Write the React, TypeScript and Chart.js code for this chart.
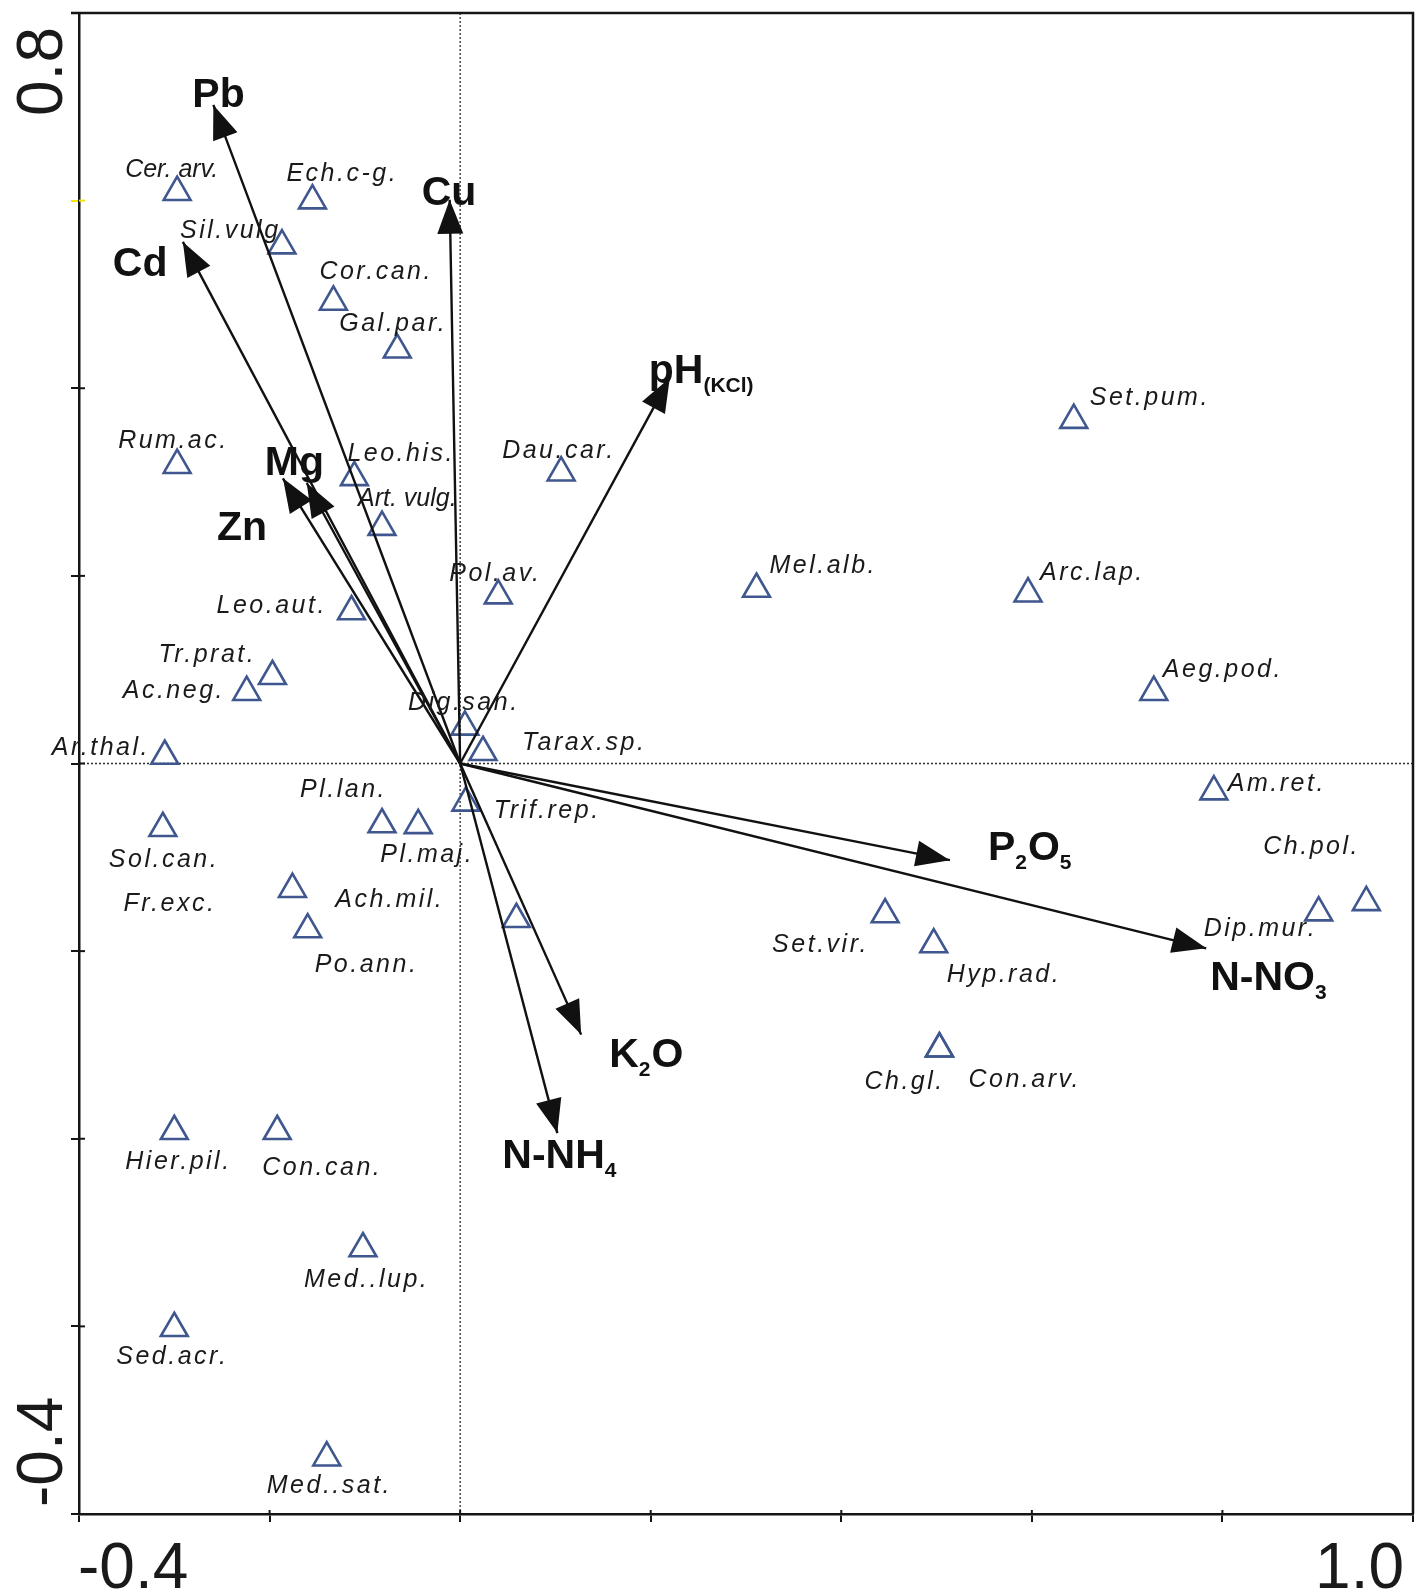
import React, { useEffect, useRef } from "react";
import { Chart, registerables } from "chart.js";

Chart.register(...registerables);

// ---- axis ticks ----
const xTickValues = [-0.4, -0.2, 0, 0.2, 0.4, 0.6, 0.8, 1.0];
const xTickLabels = ["-0.4", "", "", "", "", "", "", "1.0"];
const yTickValues = [-0.8, -0.6, -0.4, -0.2, 0, 0.2, 0.4, 0.6, 0.8];
const yTickLabels = ["-0.4", "", "", "", "", "", "", "", "0.8"];

// ---- species scores ----
const speciesNames = [
  "Cer. arv.", "Ech.c-g.", "Sil.vulg", "Cor.can.", "Gal.par.", "Rum.ac.", "Leo.his.", "Art. vulg.",
  "Leo.aut.", "Tr.prat.", "Ac.neg.", "Ar.thal.", "Dig.san.", "Tarax.sp.", "Dau.car.", "Pol.av.",
  "Mel.alb.", "Set.pum.", "Arc.lap.", "Aeg.pod.", "Am.ret.", "Pl.lan.", "Pl.maj.", "Trif.rep.",
  "Sol.can.", "Fr.exc.", "Ach.mil.", "Po.ann.", "Set.vir.", "Hyp.rad.", "Dip.mur.", "Ch.pol.",
  "Ch.gl.", "Con.arv.", "Hier.pil.", "Con.can.", "Med..lup.", "Sed.acr.", "Med..sat.",
];
const speciesX = [
  -0.297, -0.155, -0.187, -0.133, -0.066, -0.297, -0.111, -0.082,
  -0.114, -0.197, -0.224, -0.310, 0.005, 0.024, 0.106, 0.040,
  0.311, 0.644, 0.596, 0.728, 0.791, -0.082, -0.044, 0.006,
  -0.312, -0.176, 0.059, -0.160, 0.446, 0.497, 0.901, 0.951,
  0.503, 0.503, -0.300, -0.192, -0.102, -0.300, -0.140,
];
const speciesY = [
  0.609, 0.600, 0.552, 0.492, 0.441, 0.318, 0.305, 0.252,
  0.162, 0.093, 0.076, 0.008, 0.039, 0.012, 0.310, 0.179,
  0.186, 0.366, 0.181, 0.076, -0.030, -0.065, -0.066, -0.042,
  -0.069, -0.134, -0.166, -0.177, -0.161, -0.193, -0.159, -0.148,
  -0.304, -0.304, -0.392, -0.392, -0.517, -0.602, -0.740,
];

// ---- environmental variable arrows ("_" marks a subscript) ----
const envNames = ["Pb", "Cd", "Cu", "pH_{(KCl)}", "Mg", "Zn", "P_2O_5", "N-NO_3", "K_2O", "N-NH_4"];
const envX = [-0.259, -0.291, -0.011, 0.220, -0.161, -0.186, 0.514, 0.783, 0.127, 0.102];
const envY = [0.702, 0.556, 0.601, 0.411, 0.299, 0.304, -0.103, -0.197, -0.289, -0.394];

// ---- label placement (pixel offsets from the mark: left x, baseline y) ----
const speciesLabelOffsets: [number, number][] = [
  [-52, -15], [-26, -20], [-102, -8], [-14, -23], [-58, -19], [-59, -17], [-7, -16], [-24, -21],
  [-135, 1], [-114, -14], [-124, 6], [-113, -1], [-57, -17], [39, -2], [-59, -15], [-49, -15],
  [13, -16], [16, -15], [12, -14], [9, -15], [14, -1], [-82, -27], [-38, 37], [28, 15],
  [-54, 39], [-169, 22], [-181, -12], [7, 42], [-113, 37], [13, 37], [-115, 23], [-103, -48],
  [-75, 40], [29, 38], [-49, 38], [-15, 44], [-59, 38], [-58, 36], [-60, 35],
];
const envLabelOffsets: [number, number][] = [
  [-21, 2], [-70, 34], [-28, 5], [-21, 5], [-42, -8], [-66, 62], [38, 0], [4, 42], [28, 32], [-55, 35],
];

const FONT = '"Liberation Sans", Arial, sans-serif';
const TRI_COLOR = "#3f578e";

function parseMarkup(s: string) {
  const parts: { t: string; sub: boolean }[] = [];
  let i = 0;
  let buf = "";
  while (i < s.length) {
    const c = s[i];
    if (c === "_") {
      if (buf) parts.push({ t: buf, sub: false });
      buf = "";
      if (s[i + 1] === "{") {
        const end = s.indexOf("}", i + 2);
        parts.push({ t: s.slice(i + 2, end), sub: true });
        i = end + 1;
      } else {
        parts.push({ t: s[i + 1], sub: true });
        i += 2;
      }
    } else {
      buf += c;
      i++;
    }
  }
  if (buf) parts.push({ t: buf, sub: false });
  return parts;
}

const biplotPlugin = {
  id: "biplot",
  beforeDatasetsDraw(chart: any) {
    const { ctx, chartArea: a, scales } = chart;
    const x0 = scales.x.getPixelForValue(0);
    const y0 = scales.y.getPixelForValue(0);
    ctx.save();
    ctx.strokeStyle = "#2a2a2a";
    ctx.lineWidth = 1.3;
    ctx.setLineDash([2, 2]);
    ctx.beginPath();
    ctx.moveTo(x0, a.top);
    ctx.lineTo(x0, a.bottom);
    ctx.moveTo(a.left, y0);
    ctx.lineTo(a.right, y0);
    ctx.stroke();
    ctx.restore();
  },
  afterDatasetsDraw(chart: any) {
    const { ctx, chartArea: a, scales } = chart;
    ctx.save();
    // frame top/right
    ctx.strokeStyle = "#151515";
    ctx.lineWidth = 2.5;
    ctx.beginPath();
    ctx.moveTo(a.left - 8, a.top);
    ctx.lineTo(a.right, a.top);
    ctx.lineTo(a.right, a.bottom);
    ctx.stroke();
    // inner tick parts
    ctx.lineWidth = 2;
    yTickValues.forEach((v) => {
      const p = scales.y.getPixelForValue(v);
      ctx.strokeStyle = Math.abs(v - 0.6) < 1e-6 ? "#f2e600" : "#151515";
      ctx.beginPath();
      ctx.moveTo(a.left, p);
      ctx.lineTo(a.left + 6, p);
      ctx.stroke();
    });
    ctx.strokeStyle = "#151515";
    ctx.beginPath();
    xTickValues.forEach((v) => {
      const p = scales.x.getPixelForValue(v);
      ctx.moveTo(p, a.bottom);
      ctx.lineTo(p, a.bottom - 4);
    });
    ctx.stroke();

    // arrowheads
    ctx.fillStyle = "#111";
    envNames.forEach((_, i) => {
      const meta = chart.getDatasetMeta(i);
      const p0 = meta.data[0];
      const p1 = meta.data[1];
      const dx = p1.x - p0.x;
      const dy = p1.y - p0.y;
      const len = Math.hypot(dx, dy);
      const ux = dx / len;
      const uy = dy / len;
      const L = 34;
      const W = 13;
      ctx.beginPath();
      ctx.moveTo(p1.x, p1.y);
      ctx.lineTo(p1.x - L * ux - W * uy, p1.y - L * uy + W * ux);
      ctx.lineTo(p1.x - L * ux + W * uy, p1.y - L * uy - W * ux);
      ctx.closePath();
      ctx.fill();
    });

    // env labels
    ctx.fillStyle = "#111";
    ctx.textBaseline = "alphabetic";
    ctx.textAlign = "left";
    envNames.forEach((name, i) => {
      const meta = chart.getDatasetMeta(i);
      const p1 = meta.data[1];
      let cx = p1.x + envLabelOffsets[i][0];
      const by = p1.y + envLabelOffsets[i][1];
      parseMarkup(name).forEach((part) => {
        ctx.font = part.sub ? `bold 21px ${FONT}` : `bold 41px ${FONT}`;
        ctx.fillText(part.t, cx, by + (part.sub ? 9 : 0));
        cx += ctx.measureText(part.t).width + (part.sub ? 1 : 0);
      });
    });

    // species labels
    const sIdx = envNames.length;
    const sMeta = chart.getDatasetMeta(sIdx);
    ctx.fillStyle = "#1a1a1a";
    ctx.font = `italic 25px ${FONT}`;
    speciesNames.forEach((name, i) => {
      const p = sMeta.data[i];
      (ctx as any).letterSpacing = name.includes(" ") ? "0px" : "2.5px";
      ctx.fillText(name, p.x + speciesLabelOffsets[i][0], p.y + speciesLabelOffsets[i][1]);
    });
    (ctx as any).letterSpacing = "0px";

    // axis value labels
    ctx.fillStyle = "#1a1a1a";
    ctx.font = `64px ${FONT}`;
    xTickValues.forEach((v, i) => {
      const lbl = xTickLabels[i];
      if (!lbl) return;
      const p = scales.x.getPixelForValue(v);
      ctx.textAlign = i === 0 ? "left" : "right";
      ctx.fillText(lbl, i === 0 ? p - 1 : p - 9, a.bottom + 74);
    });
    yTickValues.forEach((v, i) => {
      const lbl = yTickLabels[i];
      if (!lbl) return;
      const p = scales.y.getPixelForValue(v);
      ctx.save();
      ctx.translate(a.left - 17, i === 0 ? p - 7 : p + 14);
      ctx.rotate(-Math.PI / 2);
      ctx.textAlign = i === 0 ? "left" : "right";
      ctx.fillText(lbl, 0, 0);
      ctx.restore();
    });
    ctx.restore();
  },
};

export default function App() {
  const ref = useRef<HTMLCanvasElement | null>(null);

  useEffect(() => {
    if (!ref.current) return;
    const arrowSets = envNames.map((n, i) => ({
      type: "line" as const,
      label: n,
      data: [
        { x: 0, y: 0 },
        { x: envX[i], y: envY[i] },
      ],
      showLine: true,
      borderColor: "#111",
      borderWidth: 2.4,
      pointRadius: 0,
      fill: false,
    }));
    const speciesSet = {
      type: "scatter" as const,
      label: "species",
      data: speciesX.map((x, i) => ({ x, y: speciesY[i] })),
      pointStyle: "triangle",
      pointRadius: 15.5,
      pointBorderWidth: 2.6,
      pointBorderColor: TRI_COLOR,
      pointBackgroundColor: "rgba(0,0,0,0)",
      showLine: false,
    };
    const chart = new Chart(ref.current, {
      type: "scatter",
      data: { datasets: [...arrowSets, speciesSet] as any },
      options: {
        animation: false,
        responsive: false,
        events: [],
        layout: { autoPadding: false, padding: { left: 71, right: 9, top: 13, bottom: 74 } },
        plugins: { legend: { display: false }, tooltip: { enabled: false } },
        scales: {
          x: {
            type: "linear",
            min: -0.4,
            max: 1.0,
            afterBuildTicks: (s: any) => {
              s.ticks = xTickValues.map((v) => ({ value: v }));
            },
            afterFit: (s: any) => {
              s.height = 8;
            },
            ticks: { display: false },
            grid: { drawOnChartArea: false, drawTicks: true, tickLength: 8, color: "#151515", lineWidth: 2 },
            border: { display: true, color: "#151515", width: 2.5 },
          },
          y: {
            type: "linear",
            min: -0.8,
            max: 0.8,
            afterBuildTicks: (s: any) => {
              s.ticks = yTickValues.map((v) => ({ value: v }));
            },
            afterFit: (s: any) => {
              s.width = 8;
            },
            ticks: { display: false },
            grid: {
              drawOnChartArea: false,
              drawTicks: true,
              tickLength: 8,
              lineWidth: 2,
              color: (c: any) => (c.tick && Math.abs(c.tick.value - 0.6) < 1e-6 ? "#f2e600" : "#151515"),
            },
            border: { display: true, color: "#151515", width: 2.5 },
          },
        },
      },
      plugins: [biplotPlugin],
    } as any);
    return () => chart.destroy();
  }, []);

  return (
    <div style={{ position: "absolute", left: 0, top: 0, width: 1422, height: 1596, background: "#fff" }}>
      <canvas ref={ref} width={1422} height={1596} style={{ display: "block" }} />
    </div>
  );
}
